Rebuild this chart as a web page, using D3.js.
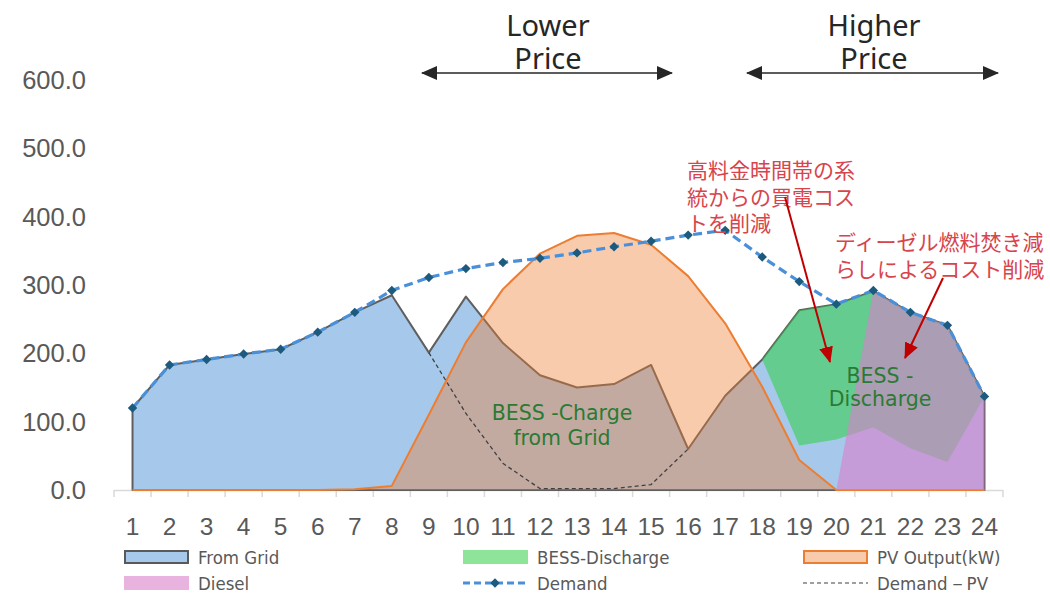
<!DOCTYPE html>
<html>
<head>
<meta charset="utf-8">
<script src="https://cdn.jsdelivr.net/npm/d3@7"></script>
<style>
  html, body { margin: 0; padding: 0; background: #fff; }
  svg { display: block; }
</style>
</head>
<body>
<svg id="chart" width="1050" height="593"></svg>
<script>
// Hour of day (category axis)
const hours = [1, 2, 3, 4, 5, 6, 7, 8, 9, 10, 11, 12, 13, 14, 15, 16, 17, 18, 19, 20, 21, 22, 23, 24];

// Load demand (kW)
const demand = [120, 183, 191, 199, 206, 231, 260, 292, 311, 324, 333, 339, 347, 356, 364, 373, 380, 341, 305, 272, 292, 260, 241, 137];

// Power bought from the grid (kW)
const fromGrid = [120, 183, 191, 199, 206, 231, 260, 285, 201, 283, 215, 168, 150, 155, 183, 60, 138, 191, 263, 272, 291, 260, 241, 137];

// PV output (kW)
const pvOutput = [0, 0, 0, 0, 0, 0, 1, 6, 110, 216, 294, 346, 372, 376, 359, 313, 244, 151, 44, 0, 0, 0, 0, 0];

// Battery discharge band: upper and lower edge (kW)
const bessTop  = [null, null, null, null, null, null, null, null, null, null, null, null, null, null, null, null, null, 191, 263, 272, 291, 260, 241, 137];
const bessBase = [null, null, null, null, null, null, null, null, null, null, null, null, null, null, null, null, null, 191, 65, 74, 92, 61, 41, 137];

// Diesel generation (kW)
const diesel = [null, null, null, null, null, null, null, null, null, null, null, null, null, null, null, null, null, null, null, 0, 291, 260, 241, 137];

// Net demand after PV (kW)
const demandMinusPV = [null, null, null, null, null, null, null, null, 201, 112, 39, 2, 2, 2, 8, 60, null, null, null, null, null, null, null, null];

// Value axis ticks
const yTicks = [0, 100, 200, 300, 400, 500, 600];

const svg = d3.select('#chart');

const x = d3.scaleBand().domain(hours).range([114, 1003]).padding(0);
const cx = h => x(h) + x.bandwidth() / 2;
const y = d3.scaleLinear().domain([0, 600]).range([490, 80]);

const defs = svg.append('defs');
defs.append('marker')
  .attr('id', 'blackHead')
  .attr('viewBox', '0 0 16 14')
  .attr('refX', 15).attr('refY', 7)
  .attr('markerWidth', 16).attr('markerHeight', 14)
  .attr('markerUnits', 'userSpaceOnUse')
  .attr('orient', 'auto-start-reverse')
  .append('path').attr('d', 'M0,0L16,7L0,14Z').attr('fill', '#262626');
defs.append('marker')
  .attr('id', 'redHead')
  .attr('viewBox', '0 0 16 14')
  .attr('refX', 15).attr('refY', 7)
  .attr('markerWidth', 16).attr('markerHeight', 14)
  .attr('markerUnits', 'userSpaceOnUse')
  .attr('orient', 'auto')
  .append('path').attr('d', 'M0,0L16,7L0,14Z').attr('fill', '#c00000');

// Category axis line and tick marks at category edges
const axisG = svg.append('g');
axisG.append('line')
  .attr('x1', x.range()[0]).attr('x2', x.range()[1])
  .attr('y1', y(0) + 0.5).attr('y2', y(0) + 0.5)
  .attr('stroke', '#d9d9d9').attr('stroke-width', 1.5);
const edges = hours.map(h => x(h)).concat([x.range()[1]]);
axisG.selectAll('line.tick').data(edges).join('line')
  .attr('class', 'tick')
  .attr('x1', d => d).attr('x2', d => d)
  .attr('y1', y(0)).attr('y2', y(0) + 7)
  .attr('stroke', '#d9d9d9').attr('stroke-width', 1.5);

// Axis labels
svg.append('g').selectAll('text').data(hours).join('text')
  .attr('x', d => cx(d)).attr('y', 526)
  .attr('text-anchor', 'middle').attr('dominant-baseline', 'central')
  .attr('font-family', 'Liberation Sans, Arial, sans-serif')
  .attr('font-size', 24.5).attr('fill', '#595959')
  .text(d => d);

svg.append('g').selectAll('text').data(yTicks).join('text')
  .attr('x', 86).attr('y', d => y(d))
  .attr('text-anchor', 'end').attr('dominant-baseline', 'central')
  .attr('font-family', 'Liberation Sans, Arial, sans-serif')
  .attr('font-size', 25.5).attr('fill', '#595959')
  .text(d => d3.format('.1f')(d));

const idx = hours.map((h, i) => i);

// From Grid area
const gridArea = d3.area()
  .x(i => cx(hours[i])).y0(y(0)).y1(i => y(fromGrid[i]));
svg.append('path')
  .attr('d', gridArea(idx) + 'Z')
  .attr('fill', '#a6c9eb')
  .attr('stroke', '#5f5f5f').attr('stroke-width', 2).attr('stroke-linejoin', 'round');

// BESS discharge band
const bessArea = d3.area()
  .defined(i => bessTop[i] != null)
  .x(i => cx(hours[i])).y0(i => y(bessBase[i])).y1(i => y(bessTop[i]));
svg.append('path')
  .attr('d', bessArea(idx))
  .attr('fill', 'rgb(48,206,72)').attr('fill-opacity', 0.56);

// PV output area
const pvArea = d3.area()
  .x(i => cx(hours[i])).y0(y(0)).y1(i => y(pvOutput[i]));
const pvLine = d3.line()
  .x(i => cx(hours[i])).y(i => y(pvOutput[i]));
svg.append('path')
  .attr('d', pvArea(idx))
  .attr('fill', '#ed7d31').attr('fill-opacity', 0.4);
svg.append('path')
  .attr('d', pvLine(idx))
  .attr('fill', 'none').attr('stroke', '#ed7d31').attr('stroke-width', 2).attr('stroke-linejoin', 'round');

// Diesel area
const dieselArea = d3.area()
  .defined(i => diesel[i] != null)
  .x(i => cx(hours[i])).y0(y(0)).y1(i => y(diesel[i]));
svg.append('path')
  .attr('d', dieselArea(idx))
  .attr('fill', 'rgb(218,125,203)').attr('fill-opacity', 0.6);

// Demand − PV line
const netLine = d3.line()
  .defined(i => demandMinusPV[i] != null)
  .x(i => cx(hours[i])).y(i => y(demandMinusPV[i]));
svg.append('path')
  .attr('d', netLine(idx))
  .attr('fill', 'none').attr('stroke', '#404040').attr('stroke-width', 1.3)
  .attr('stroke-dasharray', '4,3');

// Demand line with diamond markers
const demandLine = d3.line()
  .x(i => cx(hours[i])).y(i => y(demand[i]));
svg.append('path')
  .attr('d', demandLine(idx))
  .attr('fill', 'none').attr('stroke', '#4a90d9').attr('stroke-width', 3.2)
  .attr('stroke-dasharray', '9,5');
const diamond = d3.symbol(d3.symbolSquare, 44);
svg.append('g').selectAll('path').data(idx).join('path')
  .attr('d', diamond)
  .attr('transform', i => `translate(${cx(hours[i])},${y(demand[i])}) rotate(45)`)
  .attr('fill', '#1c5a7e');

// In-chart labels
const greenText = (lines, xc, y0, dy) => {
  lines.forEach((t, k) => {
    svg.append('text')
      .attr('x', xc).attr('y', y0 + k * dy)
      .attr('text-anchor', 'middle').attr('dominant-baseline', 'central')
      .attr('font-family', 'DejaVu Sans, sans-serif')
      .attr('font-size', 20.5).attr('fill', '#2b7a33')
      .text(t);
  });
};
greenText(['BESS -Charge', 'from Grid'], 562, 413, 25);
greenText(['BESS -', 'Discharge'], 880, 376, 23);

// Price band annotations
const priceBand = (lines, xc, x1, x2) => {
  lines.forEach((t, k) => {
    svg.append('text')
      .attr('x', xc).attr('y', 24 + k * 33)
      .attr('text-anchor', 'middle').attr('dominant-baseline', 'central')
      .attr('font-family', 'Noto Sans, sans-serif')
      .attr('font-size', 29).attr('fill', '#262626')
      .text(t);
  });
  svg.append('line')
    .attr('x1', x1).attr('x2', x2).attr('y1', 73).attr('y2', 73)
    .attr('stroke', '#262626').attr('stroke-width', 1.5)
    .attr('marker-start', 'url(#blackHead)').attr('marker-end', 'url(#blackHead)');
};
priceBand(['Lower', 'Price'], 548, 422, 672);
priceBand(['Higher', 'Price'], 874, 747, 998);

// Red call-outs
const redText = (lines, x0, y0, dy) => {
  lines.forEach((t, k) => {
    svg.append('text')
      .attr('x', x0).attr('y', y0 + k * dy)
      .attr('dominant-baseline', 'central')
      .attr('font-family', 'Noto Sans CJK JP, sans-serif')
      .attr('font-size', 21).attr('fill', '#d8444c')
      .text(t);
  });
};
redText(['高料金時間帯の系', '統からの買電コス', 'トを削減'], 687, 169, 26.5);
redText(['ディーゼル燃料焚き減', 'らしによるコスト削減'], 835, 241, 27);

svg.append('line')
  .attr('x1', 785).attr('y1', 197).attr('x2', 830).attr('y2', 362)
  .attr('stroke', '#c00000').attr('stroke-width', 2)
  .attr('marker-end', 'url(#redHead)');
svg.append('line')
  .attr('x1', 943).attr('y1', 278).attr('x2', 905).attr('y2', 358)
  .attr('stroke', '#c00000').attr('stroke-width', 2)
  .attr('marker-end', 'url(#redHead)');

// Legend
const legendFont = 'Liberation Sans Narrow, DejaVu Sans Condensed, sans-serif';
const legendItems = [
  { label: 'From Grid', x: 124, y: 557, type: 'box', fill: '#a6c9eb', stroke: '#595959' },
  { label: 'BESS-Discharge', x: 463, y: 557, type: 'box', fill: '#8ee59a', stroke: null },
  { label: 'PV Output(kW)', x: 803, y: 557, type: 'box', fill: '#f8cbad', stroke: '#ed7d31' },
  { label: 'Diesel', x: 124, y: 583, type: 'box', fill: '#e9b3e0', stroke: null },
  { label: 'Demand', x: 463, y: 583, type: 'demand' },
  { label: 'Demand－PV', x: 803, y: 583, type: 'net' }
];
const lg = svg.append('g');
legendItems.forEach(d => {
  if (d.type === 'box') {
    lg.append('rect')
      .attr('x', d.x + (d.stroke ? 1 : 0)).attr('y', d.y - 7 + (d.stroke ? 1 : 0))
      .attr('width', 65 - (d.stroke ? 2 : 0)).attr('height', 14 - (d.stroke ? 2 : 0))
      .attr('fill', d.fill)
      .attr('stroke', d.stroke || 'none').attr('stroke-width', 2);
  } else if (d.type === 'demand') {
    lg.append('line')
      .attr('x1', d.x).attr('x2', d.x + 65).attr('y1', d.y).attr('y2', d.y)
      .attr('stroke', '#4a90d9').attr('stroke-width', 3.2).attr('stroke-dasharray', '7,4');
    lg.append('path').attr('d', diamond)
      .attr('transform', `translate(${d.x + 32},${d.y}) rotate(45)`)
      .attr('fill', '#1c5a7e');
  } else {
    lg.append('line')
      .attr('x1', d.x).attr('x2', d.x + 65).attr('y1', d.y).attr('y2', d.y)
      .attr('stroke', '#404040').attr('stroke-width', 1.2).attr('stroke-dasharray', '4,3');
  }
  lg.append('text')
    .attr('x', d.x + 74).attr('y', d.y)
    .attr('dominant-baseline', 'central')
    .attr('font-family', legendFont).attr('font-size', 18.5).attr('fill', '#595959')
    .text(d.label);
});
</script>
</body>
</html>
